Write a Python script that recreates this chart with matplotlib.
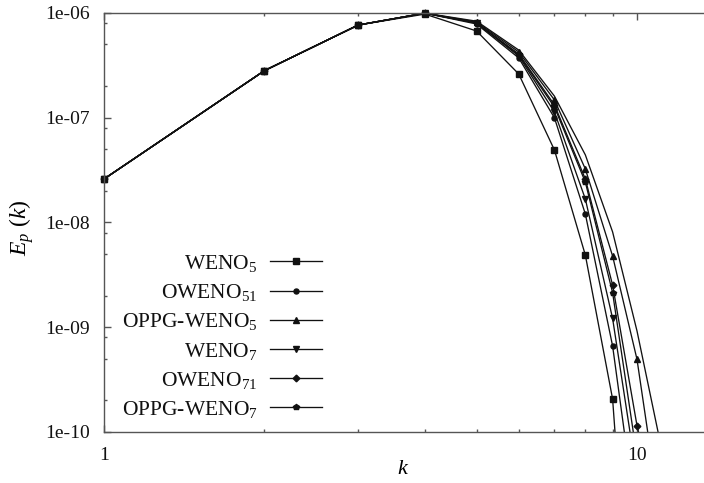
import numpy as np
import matplotlib.pyplot as plt
from matplotlib.ticker import FixedLocator, FixedFormatter, NullFormatter
from matplotlib.transforms import Bbox, TransformedBbox

plt.rcParams['font.family'] = 'Liberation Serif'
plt.rcParams['mathtext.fontset'] = 'custom'
plt.rcParams['mathtext.rm'] = 'Liberation Serif'
plt.rcParams['mathtext.it'] = 'Liberation Serif:italic'
plt.rcParams['mathtext.default'] = 'regular'

# wavenumbers
k = [1, 2, 3, 4, 5, 6, 7, 8, 9, 10, 11]

# spectra E_p(k) for each scheme
weno5 = [2.59e-8, 2.80e-7, 7.63e-7, 9.7e-7, 6.69e-7, 2.60e-7, 4.90e-8, 4.87e-9, 2.06e-10, 1.3e-13]
oweno51 = [2.59e-8, 2.80e-7, 7.63e-7, 9.9e-7, 7.80e-7, 3.70e-7, 9.93e-8, 1.20e-8, 6.61e-10, 1.3e-11]
oppg_weno5 = [2.59e-8, 2.80e-7, 7.63e-7, 9.9e-7, 8.15e-7, 4.22e-7, 1.47e-7, 3.23e-8, 4.77e-9, 4.93e-10, 1.85e-11]
weno7 = [2.59e-8, 2.80e-7, 7.63e-7, 9.9e-7, 7.98e-7, 3.86e-7, 1.13e-7, 1.67e-8, 1.21e-9, 3.66e-11]
oweno71 = [2.59e-8, 2.80e-7, 7.63e-7, 9.9e-7, 7.98e-7, 4.04e-7, 1.32e-7, 2.59e-8, 2.52e-9, 1.15e-10, 1.5e-11]
oppg_weno7 = [2.59e-8, 2.80e-7, 7.63e-7, 9.9e-7, 7.98e-7, 3.95e-7, 1.26e-7, 2.42e-8, 2.13e-9, 5.78e-11]
# unmarked curve
plain = [2.59e-8, 2.80e-7, 7.63e-7, 9.9e-7, 8.3e-7, 4.4e-7, 1.6e-7, 4.4e-8, 8.1e-9, 9.2e-10, 9.0e-11]

series = [weno5, oweno51, oppg_weno5, weno7, oweno71, oppg_weno7]
labels = ['WENO$_5$', 'OWENO$_{51}$', 'OPPG-WENO$_5$',
          'WENO$_7$', 'OWENO$_{71}$', 'OPPG-WENO$_7$']
markers = ['s', 'o', '^', 'v', 'D', 'p']
msizes = [4.8, 3.6, 3.8, 3.8, 3.4, 4.0]

ytick_vals = [1e-10, 1e-9, 1e-8, 1e-7, 1e-6]
ytick_labels = ['1e-10', '1e-09', '1e-08', '1e-07', '1e-06']
xtick_vals = [1, 10]
xtick_labels = ['1', '10']

W, H = 704, 483
fig = plt.figure(figsize=(W / 100, H / 100), dpi=100)
left, top, bottom, decade = 104, 12.7, 432.0, 533.0
right = W
ax = fig.add_axes([left / W, (H - bottom) / H, (right - left) / W, (bottom - top) / H])
ax.set_xscale('log')
ax.set_yscale('log')
ax.set_xlim(1, 10 ** ((right - left) / decade))
ax.set_ylim(1e-10, 1e-6)

# clip lines at the bottom but let markers sit on the left/top frame
clip = TransformedBbox(Bbox([[-0.03, 0.0], [1.0, 1.03]]), ax.transAxes)

line_kw = dict(color='#111111', lw=0.95)
ln, = ax.plot(k[:len(plain)], plain, **line_kw)
ln.set_clip_box(clip)
for v, lab, m, ms in zip(series, labels, markers, msizes):
    ln, = ax.plot(k[:len(v)], v, marker=m, ms=ms, mfc='#111111', mec='#111111',
                  label=lab, **line_kw)
    ln.set_clip_box(clip)

spine_col = '#555555'
for s in ['left', 'bottom', 'top']:
    ax.spines[s].set_color(spine_col)
    ax.spines[s].set_linewidth(1.0)
ax.spines['right'].set_visible(False)

ax.xaxis.set_major_locator(FixedLocator(xtick_vals))
ax.xaxis.set_major_formatter(FixedFormatter(xtick_labels))
ax.xaxis.set_minor_locator(FixedLocator([2, 3, 4, 5, 6, 7, 8, 9]))
ax.xaxis.set_minor_formatter(NullFormatter())
ax.yaxis.set_major_locator(FixedLocator(ytick_vals))
ax.yaxis.set_major_formatter(FixedFormatter(ytick_labels))
ymin = [b * s for b in [1e-10, 1e-9, 1e-8, 1e-7] for s in (2, 5, 8)]
ax.yaxis.set_minor_locator(FixedLocator(ymin))
ax.yaxis.set_minor_formatter(NullFormatter())

ax.tick_params(which='both', direction='in', color=spine_col, width=1.0,
               top=True, right=False, labelsize=14, labelcolor='#111111')
ax.tick_params(which='major', length=5)
ax.tick_params(which='minor', length=2.5)
ax.tick_params(axis='x', pad=11)
ax.tick_params(axis='y', pad=10)

fig.text(403 / W, 1 - 470 / H, '$\\mathit{k}$', fontsize=16, ha='center', va='center')
fig.text(22 / W, 1 - 228 / H, '$\\mathit{E_p}\\ (\\mathit{k})$', fontsize=17,
         rotation=90, ha='center', va='center')

leg = ax.legend(loc='upper right', bbox_to_anchor=(322 / W, 1 - 253 / H),
                bbox_transform=fig.transFigure, frameon=False, markerfirst=False,
                fontsize=15.5, handlelength=2.4, handletextpad=0.6,
                labelspacing=0.38, borderpad=0, borderaxespad=0)
for t in leg.get_texts():
    t.set_color('#111111')

fig.savefig('out.png', dpi=100)
